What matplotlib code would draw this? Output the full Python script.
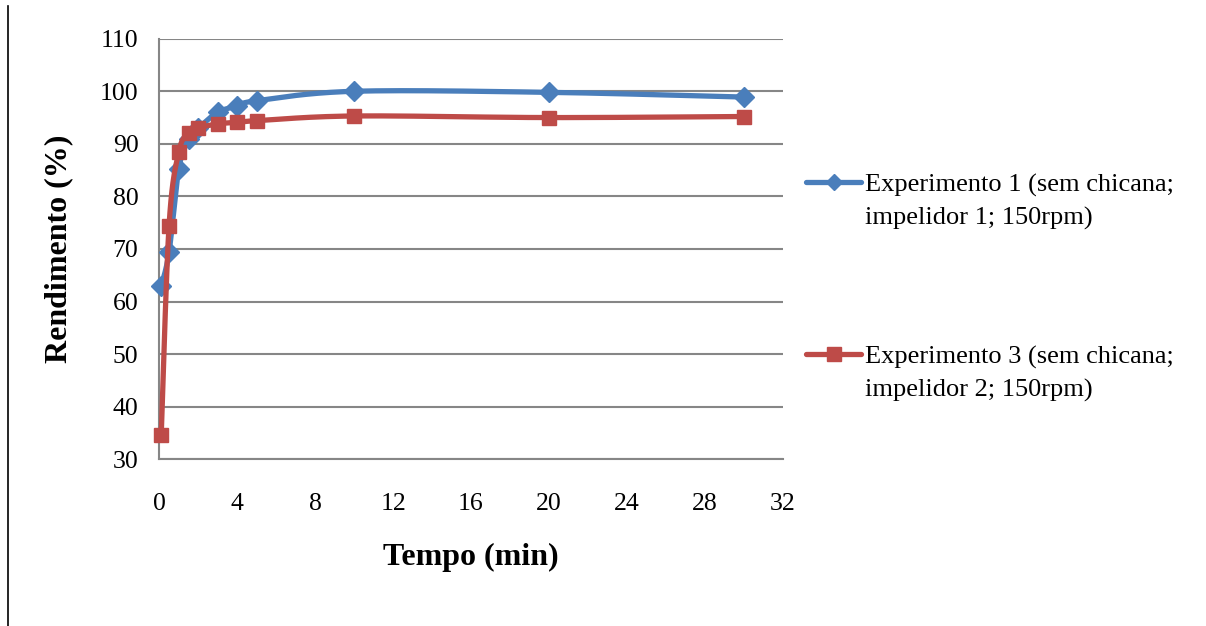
import numpy as np
import matplotlib
matplotlib.use("Agg")
import matplotlib.pyplot as plt
from matplotlib.lines import Line2D

# ---------------- data ----------------
t_exp1 = [0.1, 0.5, 1.0, 1.5, 2.0, 3.0, 4.0, 5.0, 10.0, 20.0, 30.0]
y_exp1 = [63.0, 69.4, 85.2, 91.0, 93.0, 96.0, 97.2, 98.2, 100.0, 99.8, 98.9]
t_exp3 = [0.1, 0.5, 1.0, 1.5, 2.0, 3.0, 4.0, 5.0, 10.0, 20.0, 30.0]
y_exp3 = [34.7, 74.4, 88.5, 92.0, 93.0, 93.8, 94.1, 94.4, 95.3, 95.0, 95.2]
label_exp1 = "Experimento 1 (sem chicana;\nimpelidor 1; 150rpm)"
label_exp3 = "Experimento 3 (sem chicana;\nimpelidor 2; 150rpm)"
x_ticks = [0, 4, 8, 12, 16, 20, 24, 28, 32]
y_ticks = [30, 40, 50, 60, 70, 80, 90, 100, 110]
x_label = "Tempo (min)"
y_label = "Rendimento (%)"

BLUE = "#4A7EBB"
RED = "#BE4B48"
GRID = "#868686"

plt.rcParams["font.family"] = ["Liberation Serif", "DejaVu Serif"]


def smooth(x, y, n=30):
    """Excel-like smoothed (Bezier / Catmull-Rom style) path through points."""
    x = np.asarray(x, float)
    y = np.asarray(y, float)
    px = np.concatenate([[x[0]], x, [x[-1]]])
    py = np.concatenate([[y[0]], y, [y[-1]]])
    xs, ys = [], []
    tt = np.linspace(0, 1, n)
    for i in range(1, len(px) - 2):
        p0 = np.array([px[i], py[i]])
        p3 = np.array([px[i + 1], py[i + 1]])
        p1 = p0 + (np.array([px[i + 1], py[i + 1]]) - np.array([px[i - 1], py[i - 1]])) / 6.0
        p2 = p3 - (np.array([px[i + 2], py[i + 2]]) - np.array([px[i], py[i]])) / 6.0
        b = ((1 - tt) ** 3)[:, None] * p0 + (3 * (1 - tt) ** 2 * tt)[:, None] * p1 \
            + (3 * (1 - tt) * tt ** 2)[:, None] * p2 + (tt ** 3)[:, None] * p3
        xs.extend(b[:, 0])
        ys.extend(b[:, 1])
    return np.array(xs), np.array(ys)


fig = plt.figure(figsize=(12.06, 6.26), dpi=100)
ax = fig.add_axes([159.3 / 1206, (626 - 459.3) / 626, (782.7 - 159.3) / 1206, (459.3 - 38.7) / 626])

ax.set_xlim(0, 32)
ax.set_ylim(30, 110)
ax.set_xticks(x_ticks)
ax.set_yticks(y_ticks)
ax.tick_params(length=0, labelsize=18.5)
ax.tick_params(axis="y", pad=15)
ax.tick_params(axis="x", pad=24)
ax.grid(axis="y", color=GRID, linewidth=1.5)
ax.set_axisbelow(True)
for s in ["top", "right"]:
    ax.spines[s].set_visible(False)
for s in ["left", "bottom"]:
    ax.spines[s].set_color(GRID)
    ax.spines[s].set_linewidth(1.5)

lw = 3.8
ms_d = 10.0
ms_s = 10.5
sx, sy = smooth(t_exp1, y_exp1)
ax.plot(sx, sy, color=BLUE, lw=lw, solid_capstyle="round", zorder=3, clip_on=False)
ax.plot(t_exp1, y_exp1, ls="none", marker="D", ms=ms_d, color=BLUE, mec=BLUE, mew=1, zorder=4, clip_on=False)
sx, sy = smooth(t_exp3, y_exp3)
ax.plot(sx, sy, color=RED, lw=lw, solid_capstyle="round", zorder=5, clip_on=False)
ax.plot(t_exp3, y_exp3, ls="none", marker="s", ms=ms_s, color=RED, mec=RED, mew=1, zorder=6, clip_on=False)

ax.set_xlabel(x_label, fontsize=23, fontweight="bold", labelpad=20)
ax.set_ylabel(y_label, fontsize=23, fontweight="bold", labelpad=19)

handles = [
    Line2D([], [], color=BLUE, lw=lw, marker="D", ms=ms_d * 0.8, mec=BLUE, solid_capstyle="round"),
    Line2D([], [], color=RED, lw=lw, marker="s", ms=ms_s, mec=RED, solid_capstyle="round"),
]
leg = fig.legend(handles, [label_exp1, label_exp3], loc="upper left",
                 bbox_to_anchor=(806 / 1206, 1 - 174 / 626), frameon=False,
                 fontsize=19, handlelength=2.1, handletextpad=0.15,
                 labelspacing=4.36, borderpad=0, borderaxespad=0)
for t in leg.get_texts():
    t.set_linespacing(1.58)
fig.canvas.draw()
for h in leg.legend_handles:
    yd = np.asarray(h.get_ydata(), float)
    h.set_ydata(yd + 13.7)

# document border line at the left
fig.add_artist(Line2D([8 / 1206, 8 / 1206], [0, 1 - 6 / 626], color="black", lw=1.2,
                      transform=fig.transFigure))

fig.savefig("out.png", dpi=100)
